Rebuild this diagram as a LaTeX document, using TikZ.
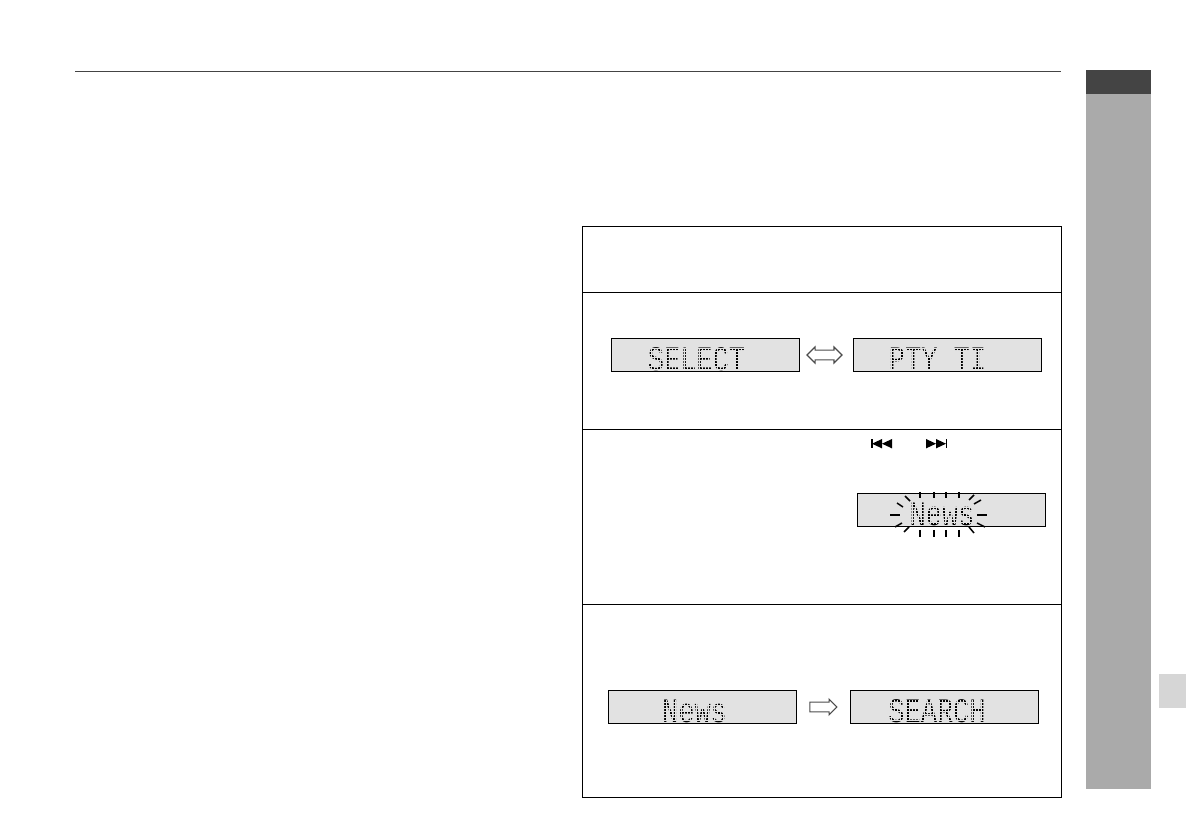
\documentclass[tikz,border=0pt]{standalone}
\usepackage{xcolor}
\usepackage{fontspec}
\setmonofont{Liberation Mono}
\usetikzlibrary{shapes.arrows}
\definecolor{tabdark}{HTML}{444444}
\definecolor{tabgrey}{HTML}{AAAAAA}
\definecolor{tablight}{HTML}{D6D6D6}
\definecolor{lcdfill}{HTML}{E2E2E2}
\newcommand{\px}{0.02cm}
\tikzset{
  lcd/.style={draw=black, line width=1*\px, fill=lcdfill, minimum width=188*\px, minimum height=33*\px, inner sep=0pt},
  lcdtext/.style={font=\ttfamily\fontsize{19.5}{20}\selectfont, text=black, inner sep=0pt, xscale=0.79},
  lcdgrid/.style={draw=lcdfill, line width=0.9*\px, step=3*\px},
  ray/.style={line width=1.5*\px},
  hollow/.style={draw=black!70, line width=1.1*\px, fill=white, inner sep=4.3*\px, anchor=center}
}
\newcommand{\lcdword}[4]{
  \node[lcdtext] (#1) at (#2,#3) {#4};
  \draw[lcdgrid] ([yshift=2*\px]#1.south west) grid (#1.north east);
}
\begin{document}
\begin{tikzpicture}[x=\px, y=-\px]
  \useasboundingbox (0,0) rectangle (1187,837);
  % page rule and side tabs
  \draw[line width=1*\px, draw=tabdark] (75,71.5) -- (1061,71.5);
  \fill[tabdark] (1086,70) rectangle (1151,94);
  \fill[tabgrey] (1086,94) rectangle (1151,789);
  \fill[tablight] (1159,674) rectangle (1186,708);
  % frame
  \draw[line width=0.9*\px] (582.5,226.5) rectangle (1061,797);
  \draw[line width=0.9*\px] (582.5,292.5) -- (1061,292.5);
  \draw[line width=0.9*\px] (582.5,429.5) -- (1061,429.5);
  \draw[line width=0.9*\px] (582.5,604.5) -- (1061,604.5);
  % first row
  \node[lcd] (select) at (705.8,355) {};
  \node[lcd] (pty) at (947.8,355) {};
  \lcdword{selectword}{696.5}{359.5}{SELECT}
  \lcdword{ptyword}{937.5}{359.5}{PTY TI}
  \node[hollow, double arrow, double arrow head extend=3.2*\px, minimum width=15*\px, minimum height=35*\px] (swap) at (824.5,355) {};
  % skip buttons
  \foreach \tipx/\dirx in {871/1, 947/-1} {
    \fill (\tipx,439) rectangle ++(\dirx*1.5,9.5);
    \fill (\tipx+\dirx*1,443.7) -- ++(\dirx*10,-4.7) -- ++(0,9.4) -- cycle;
    \fill (\tipx+\dirx*11,443.7) -- ++(\dirx*10,-4.7) -- ++(0,9.4) -- cycle;
  }
  % second row
  \node[lcd] (newsa) at (951,510) {};
  \lcdword{newsaword}{942}{514}{News}
  \foreach \xa/\ya/\xb/\yb in {920/492/920/498, 934/492/934/498, 946/492/946/498, 959/492/959/498,
    920/530/920/537, 934/530/934/537, 946/530/946/537, 959/530/959/537,
    890/515/900/515, 977/515/987/515, 905/496/910/501, 897/503/903/507, 895/527/902/523, 904/532/909/527,
    969/500/974/495, 974/504/981/500, 977/523/985/527, 969/527/974/533} {
    \draw[ray] (\xa,\ya) -- (\xb,\yb);
  }
  % third row
  \node[lcd] (newsb) at (702.8,707) {};
  \node[lcd] (search) at (944.8,707) {};
  \lcdword{newsbword}{694.5}{711.5}{News}
  \lcdword{searchword}{937}{711.5}{SEARCH}
  \node[hollow, single arrow, single arrow head extend=3*\px, minimum width=15*\px, minimum height=27*\px] (next) at (821,707) {};
\end{tikzpicture}
\end{document}
